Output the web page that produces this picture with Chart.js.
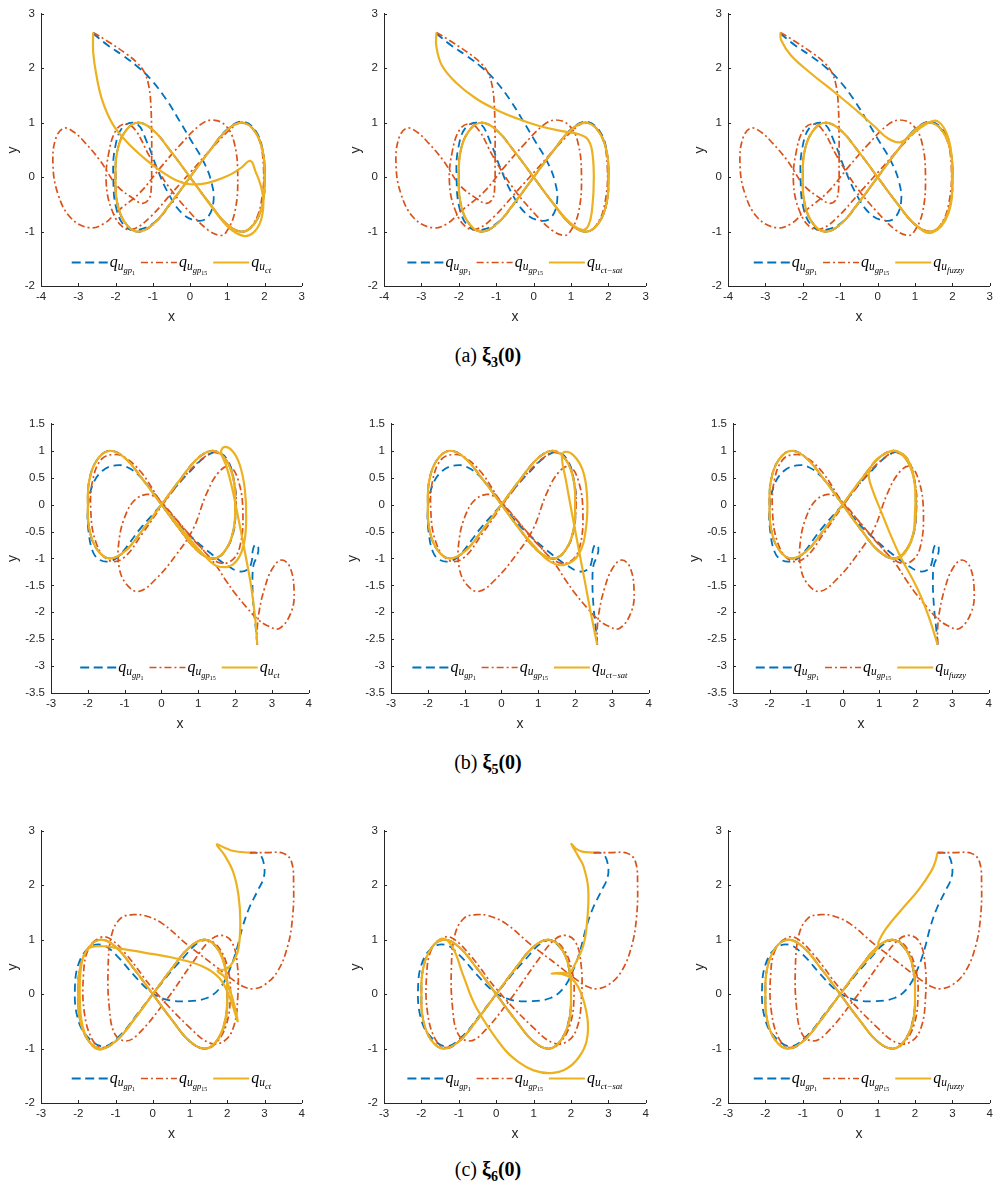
<!DOCTYPE html>
<html>
<head>
<meta charset="utf-8">
<script src="https://cdn.jsdelivr.net/npm/chart.js@4.4.1/dist/chart.umd.min.js"></script>
<style>
  html, body { margin: 0; padding: 0; background: #fff; }
  body { width: 997px; height: 1189px; position: relative; overflow: hidden; }
  canvas { position: absolute; }
  .caption { position: absolute; left: 0; width: 976px; text-align: center; line-height: 22px;
             font-family: "Liberation Serif", serif; font-size: 20px; color: #000; }
  .caption sub { font-size: 14px; }
</style>
</head>
<body>
<div class="caption" style="top:344px">(a) <b>ξ<sub>3</sub>(0)</b></div>
<div class="caption" style="top:751px">(b) <b>ξ<sub>5</sub>(0)</b></div>
<div class="caption" style="top:1158px">(c) <b>ξ<sub>6</sub>(0)</b></div>
<script>
// figure-eight that every controller settles on
const loop8 = [
  [0,0],[-0.5,0.46],[-1.0,0.87],[-1.42,1.0],[-1.76,0.82],[-1.96,0.45],[-2.0,0],[-1.96,-0.45],[-1.76,-0.82],[-1.42,-1.0],[-1.0,-0.87],[-0.5,-0.46],
  [0,0],[0.5,0.46],[1.0,0.87],[1.42,1.0],[1.76,0.82],[1.96,0.45],[2.0,0],[1.96,-0.45],[1.76,-0.82],[1.42,-1.0],[1.0,-0.87],[0.5,-0.46],[0,0]
];
const loop8Rev = loop8.slice().reverse();

// (a) xi_3(0)
const xi3Gp1 = [
  [-2.6,2.64],[-2.2,2.42],[-1.79,2.23],[-1.39,2.02],[-1.03,1.78],[-0.63,1.42],[-0.27,1.02],[0.05,0.65],[0.36,0.29],[0.57,-0.08],
  [0.63,-0.44],[0.47,-0.74],[0.18,-0.8],[-0.22,-0.66],[-0.58,-0.3],[-0.89,0.17],[-1.16,0.65],[-1.43,0.98],[-1.79,0.93],[-2.01,0.55],
  [-2.06,0],[-1.97,-0.6],[-1.7,-0.93],[-1.34,-0.96],[-0.9,-0.8],[-0.45,-0.42],[0,0],[0.5,0.46],[1.0,0.88],[1.42,1.02],[1.78,0.83],
  [1.97,0.42],[2.0,-0.05],[1.94,-0.5],[1.73,-0.85],[1.42,-1.0],[1.0,-0.87],[0.5,-0.46], ...loop8
];
const xi3Gp15 = [
  [-2.6,2.66],[-2.15,2.47],[-1.7,2.26],[-1.42,2.1],[-1.22,1.92],[-1.1,1.65],[-1.05,1.3],[-1.03,0.8],[-1.03,0.3],[-1.04,-0.18],
  [-1.1,-0.4],[-1.28,-0.48],[-1.55,-0.38],[-1.97,-0.15],[-2.41,0.3],[-2.8,0.62],[-3.1,0.82],[-3.38,0.9],[-3.6,0.72],[-3.68,0.25],
  [-3.55,-0.3],[-3.2,-0.75],[-2.7,-0.93],[-2.3,-0.85],[-1.97,-0.64],[-1.34,-0.28],[-0.8,0.17],[-0.27,0.59],[0.27,0.96],[0.6,1.05],
  [0.95,0.95],[1.18,0.65],[1.28,0.05],[1.2,-0.65],[0.95,-1.03],[0.8,-1.07],[0.5,-0.98],[0.0,-0.65],[-0.6,-0.15],[-1.1,0.4],
  [-1.45,0.85],[-1.7,0.98],[-1.97,0.88],[-2.18,0.45],[-2.25,-0.1],[-2.1,-0.6],[-1.8,-0.92],[-1.5,-0.95],[-1.05,-0.72],[-0.5,-0.3],
  [0.05,0.12],[0.65,0.58],[1.2,0.95],[1.45,1.0],[1.8,0.78],[1.97,0.2],[1.9,-0.5],[1.68,-0.88],[1.42,-1.0],[1.0,-0.87],[0.5,-0.46], ...loop8
];
const xi3Ct = [
  [-2.6,2.66],[-2.6,2.3],[-2.52,1.9],[-2.36,1.42],[-2.08,0.98],[-1.7,0.65],[-1.25,0.36],[-0.8,0.12],[-0.36,-0.06],[0,-0.13],
  [0.45,-0.11],[1.0,0.02],[1.35,0.16],[1.62,0.3],[1.76,0.1],[1.9,-0.16],[1.97,-0.45],[1.9,-0.8],[1.7,-1.02],[1.43,-1.08],
  [1.0,-0.9],[0.5,-0.47], ...loop8, ...loop8.slice(1)
];
const xi3CtSat = [
  [-2.6,2.66],[-2.6,2.4],[-2.45,2.05],[-2.08,1.74],[-1.55,1.45],[-1.0,1.24],[-0.45,1.08],[0.15,0.94],[0.8,0.84],[1.2,0.79],
  [1.43,0.71],[1.56,0.5],[1.61,0.0],[1.57,-0.55],[1.47,-0.88],[1.3,-0.97],[0.95,-0.82],[0.48,-0.44], ...loop8, ...loop8.slice(1)
];
const xi3Fuzzy = [
  [-2.6,2.66],[-2.58,2.52],[-2.32,2.24],[-1.77,1.9],[-1.15,1.56],[-0.52,1.2],[-0.08,0.93],[0.28,0.71],[0.59,0.64],[0.85,0.75],
  [1.26,0.96],[1.6,1.03],[1.9,0.7],[1.99,0.05],[1.9,-0.65],[1.45,-1.02],[1.0,-0.87],[0.5,-0.46], ...loop8, ...loop8.slice(1)
];

// (b) xi_5(0)
const xi5Gp1 = [
  [2.6,-2.6],[2.56,-2.3],[2.5,-1.9],[2.47,-1.45],[2.5,-1.12],[2.6,-0.95],[2.63,-0.8],[2.55,-0.74],[2.48,-0.85],[2.45,-1.05],
  [2.35,-1.2],[2.1,-1.24],[1.76,-1.12],[1.4,-0.94],[0.86,-0.63],[0.32,-0.26],[-0.13,0.15],[-0.58,0.52],[-0.94,0.7],[-1.25,0.73],
  [-1.6,0.63],[-1.88,0.35],[-2.0,-0.1],[-1.98,-0.5],[-1.86,-0.88],[-1.67,-1.03],[-1.39,-1.05],[-1.12,-0.93],[-0.58,-0.45],[0,0],
  [0.68,0.55],[1.4,0.97],[1.76,0.86],[1.98,0.4],[2.01,-0.08],[1.94,-0.55],[1.68,-0.9],[1.4,-1.0],[1.0,-0.87],[0.5,-0.46], ...loop8
];
const xi5Gp15 = [
  [2.6,-2.6],[2.6,-2.3],[2.66,-1.95],[2.8,-1.55],[3.0,-1.2],[3.25,-1.03],[3.48,-1.15],[3.6,-1.6],[3.52,-2.0],[3.2,-2.3],
  [2.88,-2.25],[2.6,-2.12],[2.3,-1.9],[2.0,-1.65],[1.72,-1.38],[1.45,-1.1],[1.05,-0.78],[0.55,-0.4],[0.1,-0.03],[-0.2,0.15],
  [-0.4,0.19],[-0.7,0.1],[-0.95,-0.15],[-1.15,-0.65],[-1.14,-1.2],[-0.9,-1.52],[-0.6,-1.61],[-0.15,-1.38],[0.4,-0.93],[0.86,-0.45],
  [1.22,0.2],[1.55,0.6],[1.84,0.71],[2.08,0.46],[2.21,-0.12],[2.12,-0.8],[1.86,-1.06],[1.5,-1.06],[1.0,-0.75],[0.5,-0.35],
  [0,0.04],[-0.55,0.6],[-1.0,0.88],[-1.3,0.93],[-1.62,0.85],[-1.86,0.48],[-1.92,-0.1],[-1.78,-0.7],[-1.45,-1.03],[-1.05,-1.0],
  [-0.5,-0.52],[0,-0.03],[0.6,0.5],[1.1,0.85],[1.45,0.97],[1.77,0.82],[1.98,0.4],[2.02,-0.1],[1.9,-0.62],[1.6,-0.95],
  [1.35,-1.0],[0.9,-0.8],[0.45,-0.42], ...loop8
];
const xi5Ct = [
  [2.6,-2.6],[2.55,-2.15],[2.43,-1.5],[2.27,-0.9],[2.1,-0.3],[1.92,0.3],[1.76,0.72],[1.62,0.97],[1.7,1.07],[1.92,1.0],
  [2.12,0.75],[2.26,0.3],[2.3,-0.25],[2.22,-0.78],[1.96,-1.1],[1.55,-1.15],[1.2,-0.97],[0.6,-0.5], ...loop8, ...loop8.slice(1)
];
const xi5CtSat = [
  [2.6,-2.6],[2.45,-2.1],[2.27,-1.45],[2.09,-0.8],[1.91,-0.15],[1.75,0.45],[1.64,0.88],[1.72,0.98],[1.95,0.92],[2.2,0.65],
  [2.32,0.2],[2.3,-0.4],[2.1,-0.92],[1.7,-1.12],[1.3,-1.05],[0.9,-0.78],[0.45,-0.42], ...loop8, ...loop8.slice(1)
];
const xi5Fuzzy = [
  [2.6,-2.6],[2.34,-2.05],[2.06,-1.58],[1.52,-0.88],[1.06,-0.14],[0.75,0.41],[0.72,0.6],[0.9,0.82],[1.2,0.96],[1.45,1.0],
  [1.78,0.84],[1.97,0.4],[1.98,-0.15],[1.88,-0.68],[1.5,-1.0],[1.0,-0.87],[0.5,-0.46], ...loop8, ...loop8.slice(1)
];

// (c) xi_6(0)
const xi6Gp1 = [
  [2.6,2.6],[2.85,2.58],[2.98,2.4],[2.98,2.15],[2.8,1.88],[2.58,1.57],[2.4,1.21],[2.26,0.84],[2.08,0.48],[1.81,0.12],
  [1.45,-0.07],[0.91,-0.13],[0.37,-0.1],[-0.07,0.05],[-0.52,0.36],[-0.97,0.71],[-1.33,0.9],[-1.69,0.86],[-1.98,0.58],[-2.09,0.1],
  [-2.02,-0.43],[-1.78,-0.76],[-1.33,-0.96],[-0.88,-0.76],[-0.42,-0.37],[0,0],[0.73,0.6],[1.36,0.99],[1.75,0.82],[1.95,0.45],
  [2.0,0],[1.95,-0.45],[1.75,-0.82],[1.42,-1.0],[1.0,-0.87],[0.5,-0.46], ...loop8
];
const xi6Gp15 = [
  [2.6,2.6],[3.06,2.6],[3.5,2.59],[3.72,2.44],[3.78,2.0],[3.75,1.4],[3.62,0.88],[3.35,0.42],[3.0,0.17],[2.7,0.1],
  [2.43,0.14],[2.08,0.3],[1.63,0.54],[0.91,0.92],[0.25,1.3],[-0.2,1.44],[-0.52,1.46],[-0.85,1.4],[-1.1,1.1],[-1.2,0.45],
  [-1.16,-0.3],[-1.02,-0.73],[-0.75,-0.86],[-0.43,-0.76],[0.35,-0.12],[1.09,0.6],[1.54,0.99],[1.85,1.08],[2.12,0.96],[2.27,0.54],
  [2.28,-0.07],[2.17,-0.6],[1.92,-0.86],[1.54,-0.9],[1.0,-0.62],[0.0,0.1],[-0.7,0.72],[-1.15,1.02],[-1.41,1.04],[-1.72,0.84],
  [-1.86,0.36],[-1.83,-0.37],[-1.6,-0.86],[-1.33,-0.98],[-0.9,-0.8],[-0.45,-0.42],[0,0],[0.5,0.46],[1.0,0.87],[1.42,1.0],
  [1.78,0.85],[2.03,0.42],[2.08,-0.05],[1.98,-0.55],[1.72,-0.88],[1.42,-1.0],[1.0,-0.87],[0.5,-0.46], ...loop8
];
const xi6Ct = [
  [2.6,2.6],[2.17,2.63],[1.9,2.7],[1.72,2.75],[1.94,2.54],[2.16,2.24],[2.3,1.82],[2.35,1.33],[2.3,0.84],[2.16,0.6],
  [2.0,0.47],[1.74,0.43],[1.92,0.32],[2.1,0.02],[2.28,-0.5],[2.06,-0.05],[1.78,0.3],[1.3,0.52],[0.6,0.66],[-0.2,0.76],
  [-0.9,0.84],[-1.33,0.88],[-1.7,0.85],[-1.9,0.6],[-1.96,0.0],[-1.88,-0.6],[-1.62,-0.95],[-1.35,-1.01],[-0.9,-0.8],[-0.45,-0.42],
  [0,0],[0.5,0.46],[1.0,0.87],[1.42,1.0],[1.75,0.82],[1.95,0.45],[2.0,0],[1.95,-0.45],[1.75,-0.82],[1.42,-1.0],
  [1.0,-0.87],[0.5,-0.46], ...loop8
];
const xi6CtSat = [
  [2.6,2.6],[2.3,2.62],[2.12,2.68],[2.01,2.76],[2.18,2.55],[2.33,2.36],[2.46,1.94],[2.43,1.33],[2.33,0.9],[2.1,0.54],
  [1.97,0.4],[1.75,0.39],[1.48,0.38],[1.75,0.37],[2.0,0.3],[2.25,0.05],[2.44,-0.45],[2.42,-0.85],[2.22,-1.15],[1.88,-1.37],
  [1.45,-1.45],[1.0,-1.4],[0.6,-1.25],[0.18,-0.98],[-0.53,-0.25],[-0.89,0.36],[-1.15,0.84],[-1.42,1.02], ...loop8.slice(4), ...loop8.slice(1)
];
const xi6Fuzzy = [
  [2.6,2.6],[2.55,2.45],[2.45,2.28],[2.1,1.92],[1.65,1.56],[1.22,1.2],[1.03,0.97],[1.0,0.85], ...loop8Rev.slice(11), ...loop8Rev.slice(1)
];

// legend texts, one entry per subscript level
const gp1Label = ['q', 'u', 'gp', '1'];
const gp15Label = ['q', 'u', 'gp', '15'];
const ctLabel = ['q', 'u', 'ct'];
const ctSatLabel = ['q', 'u', 'ct\u2212sat'];
const fuzzyLabel = ['q', 'u', 'fuzzy'];

const BLUE = '#0072BD', RED = '#D95319', YELLOW = '#EDB120', AXIS = '#262626';

const rowsCfg = [
  { top: 11, bottom: 286, lefts: [41, 384, 728], rights: [302, 646, 990], xMin: -4, xMax: 3, yMin: -2, yMax: 3, yStep: 1,
    axisW: 40, yTitlePad: 3.3, legendOffset: 24, gp1: xi3Gp1, gp15: xi3Gp15, ctrl: [xi3Ct, xi3CtSat, xi3Fuzzy] },
  { top: 421, bottom: 693, lefts: [51, 391, 733], rights: [309, 649, 989], xMin: -3, xMax: 4, yMin: -3.5, yMax: 1.5, yStep: 0.5,
    axisW: 48, yTitlePad: 1.6, legendOffset: 26, gp1: xi5Gp1, gp15: xi5Gp15, ctrl: [xi5Ct, xi5CtSat, xi5Fuzzy] },
  { top: 828, bottom: 1103, lefts: [41, 384, 728], rights: [302, 646, 990], xMin: -3, xMax: 4, yMin: -2, yMax: 3, yStep: 1,
    axisW: 40, yTitlePad: 3.3, legendOffset: 25, gp1: xi6Gp1, gp15: xi6Gp15, ctrl: [xi6Ct, xi6CtSat, xi6Fuzzy] }
];
const ctrlLabels = [ctLabel, ctSatLabel, fuzzyLabel];

// size, baseline shift and style for each subscript level
const LEVELS = [
  { size: 16, dy: 4, style: 'italic' },
  { size: 11.5, dy: 7.5, style: 'italic' },
  { size: 8.5, dy: 10, style: 'italic' },
  { size: 6, dy: 12, style: 'normal' }
];
const LINE_LEN = 36, LINE_GAP = 2, ITEM_GAP = 6;

function setLevelFont(ctx, i) {
  ctx.font = LEVELS[i].style + ' ' + LEVELS[i].size + 'px "Liberation Serif", serif';
}

function labelWidth(ctx, parts) {
  let w = 0;
  parts.forEach((t, i) => { setLevelFont(ctx, i); w += ctx.measureText(t).width; });
  return w;
}

function drawLabel(ctx, parts, x, y) {
  ctx.fillStyle = '#000';
  ctx.textBaseline = 'alphabetic';
  ctx.textAlign = 'left';
  parts.forEach((t, i) => {
    setLevelFont(ctx, i);
    ctx.fillText(t, x, y + LEVELS[i].dy);
    x += ctx.measureText(t).width;
  });
}

const mathLegend = {
  id: 'mathLegend',
  afterDraw(chart, args, opts) {
    const { ctx, chartArea: a } = chart;
    const sets = chart.data.datasets;
    ctx.save();
    const widths = sets.map(ds => labelWidth(ctx, ds.mathLabel));
    const total = sets.length * (LINE_LEN + LINE_GAP) + widths.reduce((s, w) => s + w, 0) + (sets.length - 1) * ITEM_GAP;
    let x = (a.left + a.right) / 2 - total / 2;
    const y = Math.round(a.bottom - opts.offset) + 0.5;
    sets.forEach((ds, i) => {
      ctx.strokeStyle = ds.borderColor;
      ctx.lineWidth = ds.borderWidth;
      ctx.setLineDash(ds.legendDash || []);
      ctx.beginPath();
      ctx.moveTo(x, y);
      ctx.lineTo(x + LINE_LEN, y);
      ctx.stroke();
      ctx.setLineDash([]);
      x += LINE_LEN + LINE_GAP;
      drawLabel(ctx, ds.mathLabel, x, y);
      x += widths[i] + ITEM_GAP;
    });
    ctx.restore();
  }
};

// matlab style tick marks pointing into the axes
const innerTicks = {
  id: 'innerTicks',
  afterDraw(chart) {
    const { ctx, chartArea: a, scales: { x, y } } = chart;
    ctx.save();
    ctx.strokeStyle = AXIS;
    ctx.lineWidth = 1;
    ctx.beginPath();
    x.ticks.forEach(t => {
      const px = Math.round(x.getPixelForValue(t.value)) + 0.5;
      ctx.moveTo(px, a.bottom);
      ctx.lineTo(px, a.bottom - 3);
    });
    y.ticks.forEach(t => {
      const py = Math.round(y.getPixelForValue(t.value)) + 0.5;
      ctx.moveTo(a.left, py);
      ctx.lineTo(a.left + 3, py);
    });
    ctx.stroke();
    ctx.restore();
  }
};

const toPts = arr => arr.map(p => ({ x: p[0], y: p[1] }));

function lineSet(points, color, dash, legendDash, width, order, label) {
  return {
    data: toPts(points),
    showLine: true,
    borderColor: color,
    backgroundColor: color,
    borderWidth: width,
    borderDash: dash,
    legendDash: legendDash,
    pointRadius: 0,
    pointHoverRadius: 0,
    tension: 0.4,
    fill: false,
    order: order,
    mathLabel: label
  };
}

function makePanel(row, col) {
  const L = row.lefts[col], R = row.rights[col], T = row.top, B = row.bottom;
  const padTop = 10, padRight = 7, axisH = 42;
  const w = (R - L) + row.axisW + padRight;
  const h = (B - T) + padTop + axisH;
  const canvas = document.createElement('canvas');
  canvas.width = w;
  canvas.height = h;
  canvas.style.left = (L - row.axisW) + 'px';
  canvas.style.top = (T - padTop) + 'px';
  canvas.style.width = w + 'px';
  canvas.style.height = h + 'px';
  document.body.appendChild(canvas);

  const tickFont = { family: '"Liberation Sans", Arial, sans-serif', size: 11.5 };
  const titleFont = { family: '"Liberation Sans", Arial, sans-serif', size: 14 };

  new Chart(canvas, {
    type: 'scatter',
    data: {
      datasets: [
        lineSet(row.gp1, BLUE, [8, 5], [9, 4.5], 1.8, 3, gp1Label),
        lineSet(row.gp15, RED, [7, 3, 2, 3], [7, 3, 2, 3], 1.7, 2, gp15Label),
        lineSet(row.ctrl[col], YELLOW, [], [], 2.2, 1, ctrlLabels[col])
      ]
    },
    options: {
      responsive: false,
      animation: false,
      events: [],
      layout: { padding: { top: padTop, right: padRight, left: 0, bottom: 0 } },
      plugins: {
        legend: { display: false },
        tooltip: { enabled: false },
        mathLegend: { offset: row.legendOffset }
      },
      scales: {
        x: {
          type: 'linear',
          min: row.xMin,
          max: row.xMax,
          afterFit: s => { s.height = axisH; },
          ticks: { stepSize: 1, padding: 4, color: AXIS, font: tickFont, maxRotation: 0, autoSkip: false,
                   callback: v => String(v) },
          grid: { display: true, drawOnChartArea: false, drawTicks: false },
          border: { display: true, color: AXIS, width: 1 },
          title: { display: true, text: 'x', color: AXIS, font: titleFont, padding: { top: 0, bottom: 2 } }
        },
        y: {
          type: 'linear',
          min: row.yMin,
          max: row.yMax,
          afterFit: s => { s.width = row.axisW; },
          ticks: { stepSize: row.yStep, padding: 6, color: AXIS, font: tickFont, autoSkip: false,
                   callback: v => String(v) },
          grid: { display: true, drawOnChartArea: false, drawTicks: false },
          border: { display: true, color: AXIS, width: 1 },
          title: { display: true, text: 'y', color: AXIS, font: titleFont, padding: { top: row.yTitlePad, bottom: 0 } }
        }
      }
    },
    plugins: [innerTicks, mathLegend]
  });
}

rowsCfg.forEach(row => {
  for (let c = 0; c < 3; c++) makePanel(row, c);
});
</script>
</body>
</html>
